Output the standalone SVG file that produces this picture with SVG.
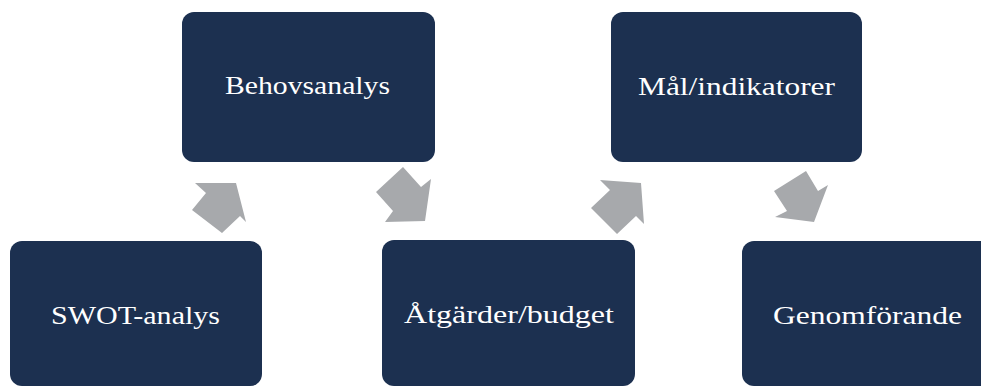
<svg xmlns="http://www.w3.org/2000/svg" width="981" height="387" viewBox="0 0 981 387">
<style>
.box{fill:#1c3050;}
.lbl{font-family:"Liberation Serif","Times New Roman",serif;font-size:26px;fill:#ffffff;}
.arr{fill:#a7a9ac;}
</style>
<rect x="0" y="0" width="981" height="387" fill="#ffffff"/>
<g id="connectors">
<polygon class="arr" points="195,183 236,183 246,222 240,216 222,233 192,210 206,193"/>
<polygon class="arr" points="403,167 421,187 431,179 425,221 385,222 393,211 376,192"/>
<polygon class="arr" points="600,180 641,183 644,224 636,216 617,234 591,208 610,190"/>
<polygon class="arr" points="806,171 818,191 828,185 814,222 775,217 787,211 774,191"/>
</g>
<g id="swot">
<rect class="box" x="10" y="241" width="252" height="145" rx="12"/>
<text class="lbl" x="51" y="324" textLength="169" lengthAdjust="spacingAndGlyphs">SWOT-analys</text>
</g>
<g id="behovsanalys">
<rect class="box" x="182" y="12" width="253" height="150" rx="12"/>
<text class="lbl" x="225" y="94" textLength="165" lengthAdjust="spacingAndGlyphs">Behovsanalys</text>
</g>
<g id="atgarder">
<rect class="box" x="382" y="240" width="253" height="146" rx="12"/>
<text class="lbl" x="404" y="323" textLength="210" lengthAdjust="spacingAndGlyphs">Åtgärder/budget</text>
</g>
<g id="mal">
<rect class="box" x="611" y="12" width="251" height="150" rx="12"/>
<text class="lbl" x="638" y="95" textLength="197" lengthAdjust="spacingAndGlyphs">Mål/indikatorer</text>
</g>
<g id="genomforande">
<rect class="box" x="742" y="241" width="252" height="145" rx="12"/>
<text class="lbl" x="773" y="324" textLength="189" lengthAdjust="spacingAndGlyphs">Genomförande</text>
</g>
</svg>
